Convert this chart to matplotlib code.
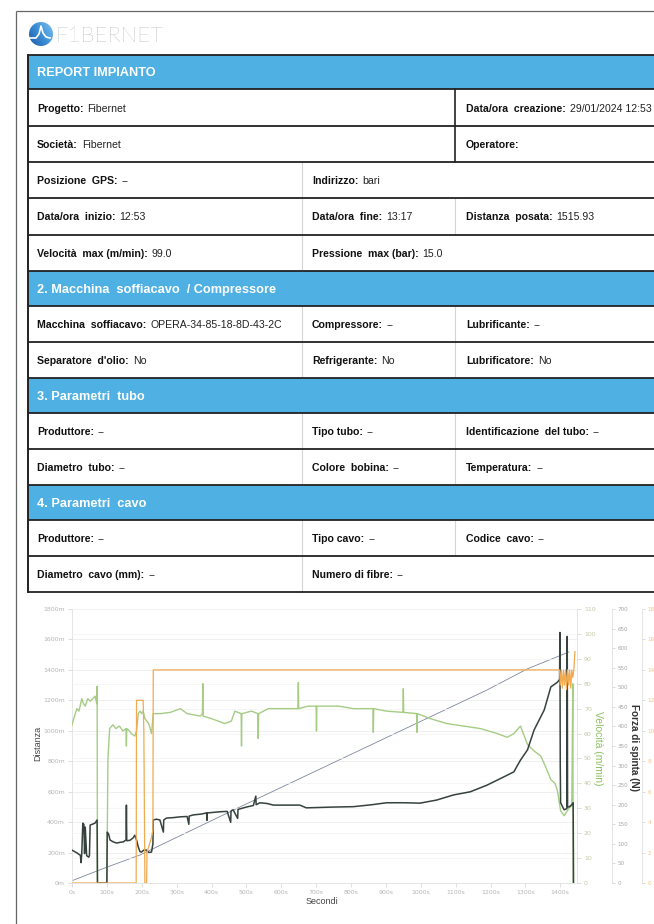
import matplotlib
matplotlib.use('Agg')
import matplotlib.pyplot as plt
from matplotlib.patches import Rectangle, Circle
import numpy as np

# ---------------- chart data ----------------
vel_t = [0, 5, 14, 20, 28, 33, 38, 45, 52, 60, 66, 71, 72, 73, 100, 103, 108, 117, 126, 136,
         146, 155, 156, 157, 165, 170, 180, 185, 190, 195, 200, 204, 209, 220, 228, 233, 253,
         282, 311, 330, 350, 368, 374, 375, 376, 400, 419, 438, 457, 467, 485, 486, 487, 515,
         533, 534, 535, 563, 592, 620, 648, 649, 650, 677, 700, 701, 702, 735, 764, 807, 835,
         863, 864, 865, 902, 949, 950, 951, 988, 989, 990, 1027, 1075, 1123, 1171, 1219, 1248,
         1267, 1286, 1306, 1325, 1344, 1360, 1373, 1385, 1392, 1401, 1411, 1425, 1433, 1436, 1437]
vel_v = [63.5, 66, 70, 69, 74, 72, 71, 74, 73, 74, 75, 72, 79, 0, 0, 50, 62, 63.5, 62, 63,
         61, 62, 55, 62, 61, 60, 59, 61, 68, 69, 68, 69, 66, 64, 60, 68, 68,
         68.5, 70, 68, 67.5, 67, 68, 80, 67, 66, 65, 64, 65, 69, 68, 55, 68, 69,
         68, 58, 68, 70, 70, 70, 70, 80.5, 70, 71, 71, 61, 71, 71, 71, 70, 70,
         70, 60.5, 70, 69, 68.5, 78, 68.5, 68, 60.5, 68, 66, 64, 63, 62, 60, 58.5,
         60, 63, 55.6, 53, 51, 46, 41.5, 40, 37, 29, 27, 30, 31, 80, 0]

force_t = [0, 8, 14, 20, 24, 26, 28, 31, 34, 36, 38, 42, 48, 50, 52, 58, 66, 72, 73, 100,
           101, 105, 109, 118, 128, 138, 147, 155, 156, 157, 166, 175, 180, 185, 190, 195, 199,
           206, 214, 220, 228, 232, 233, 242, 252, 262, 263, 271, 290, 310, 330, 335, 336, 348,
           370, 386, 387, 388, 424, 445, 455, 456, 462, 475, 476, 500, 520, 527, 528, 539, 560,
           577, 615, 653, 672, 711, 749, 807, 860, 902, 950, 998, 1046, 1094, 1142, 1190, 1238,
           1267, 1277, 1286, 1306, 1325, 1354, 1373, 1392, 1398, 1399, 1400, 1401, 1411, 1419,
           1420, 1421, 1425, 1433, 1437, 1438]
force_v = [84, 80, 77, 73, 71, 52, 75, 153, 150, 75, 143, 70, 66, 70, 148, 150, 153, 161, 0, 0,
           130, 125, 110, 105, 102, 104, 105, 110, 199, 108, 109, 115, 122, 110, 92, 80, 79,
           84, 84, 78, 79, 100, 161, 163, 161, 130, 161, 166, 167, 169, 170, 150, 171, 174,
           176, 179, 160, 179, 182, 183, 155, 184, 187, 165, 188, 194, 198, 222, 200, 205, 203,
           199, 199, 199, 192, 193, 194, 195, 200, 205, 205, 204, 212, 225, 233, 250, 271,
           284, 300, 314, 340, 391, 442, 501, 513, 520, 640, 300, 205, 187, 190,
           630, 195, 194, 200, 205, 0]

press_t = [0, 184, 185, 204, 206, 209, 214, 215, 228, 232, 233, 1398, 1400, 1403, 1406, 1409,
           1412, 1415, 1418, 1421, 1424, 1427, 1430, 1433, 1436, 1439, 1442]
press_v = [0, 0, 12, 12, 10, 0, 0, 2, 3, 3.5, 14, 14, 13, 14, 12.8, 14,
           13, 14, 12.7, 14, 13, 14, 12.8, 14, 13.5, 14, 15.2]

dist_t = [0, 101, 195, 482, 998, 1190, 1305, 1425]
dist_v = [15, 105, 184, 500, 1060, 1268, 1406, 1518]

dist_ticks = [0, 200, 400, 600, 800, 1000, 1200, 1400, 1600, 1800]
time_ticks = [0, 100, 200, 300, 400, 500, 600, 700, 800, 900, 1000, 1100, 1200, 1300, 1400]
vel_ticks = [0, 10, 20, 30, 40, 50, 60, 70, 80, 90, 100, 110]
force_ticks = [0, 50, 100, 150, 200, 250, 300, 350, 400, 450, 500, 550, 600, 650, 700]
press_ticks = [0, 2, 4, 6, 8, 10, 12, 14, 16, 18]

# ---------------- report table content ----------------
ROW_Y = [55, 89, 126, 162, 198, 235, 271, 306, 342, 378, 413, 449, 485, 520, 556, 592]
X1, X2, X3 = 37, 312, 466
rows = [
    ('h', 'REPORT IMPIANTO'),
    ('r', [(X1, 'Progetto:', 'Fibernet'), (X3, 'Data/ora  creazione:', '29/01/2024 12:53')], [(455, 'd')]),
    ('r', [(X1, 'Società:', 'Fibernet'), (X3, 'Operatore:', '')], [(455, 'd')]),
    ('r', [(X1, 'Posizione  GPS:', '--'), (X2, 'Indirizzo:', 'bari')], [(302, 'l')]),
    ('r', [(X1, 'Data/ora  inizio:', '12:53'), (X2, 'Data/ora  fine:', '13:17'),
           (X3, 'Distanza  posata:', '1515.93')], [(302, 'l'), (455, 'l')]),
    ('r', [(X1, 'Velocità  max (m/min):', '99.0'), (X2, 'Pressione  max (bar):', '15.0')], [(302, 'l')]),
    ('h', '2. Macchina  soffiacavo  / Compressore'),
    ('r', [(X1, 'Macchina  soffiacavo:', 'OPERA-34-85-18-8D-43-2C'), (X2, 'Compressore:', '--'),
           (X3, 'Lubrificante:', '--')], [(302, 'l'), (455, 'l')]),
    ('r', [(X1, "Separatore  d'olio:", 'No'), (X2, 'Refrigerante:', 'No'),
           (X3, 'Lubrificatore:', 'No')], [(302, 'l'), (455, 'l')]),
    ('h', '3. Parametri  tubo'),
    ('r', [(X1, 'Produttore:', '--'), (X2, 'Tipo tubo:', '--'),
           (X3, 'Identificazione  del tubo:', '--')], [(302, 'l'), (455, 'l')]),
    ('r', [(X1, 'Diametro  tubo:', '--'), (X2, 'Colore  bobina:', '--'),
           (X3, 'Temperatura:', '--')], [(302, 'l'), (455, 'l')]),
    ('h', '4. Parametri  cavo'),
    ('r', [(X1, 'Produttore:', '--'), (X2, 'Tipo cavo:', '--'),
           (X3, 'Codice  cavo:', '--')], [(302, 'l'), (455, 'l')]),
    ('r', [(X1, 'Diametro  cavo (mm):', '--'), (X2, 'Numero di fibre:', '--')], [(302, 'l')]),
]

W, H = 654, 924
FONT = 'Liberation Sans'
BLUE = '#4FB0E3'
CELL_FS = 7.6
fig = plt.figure(figsize=(W / 100, H / 100), dpi=100)
bg = fig.add_axes([0, 0, 1, 1])
bg.set_xlim(0, W)
bg.set_ylim(H, 0)
bg.axis('off')
renderer = fig.canvas.get_renderer()

# page border
bg.plot([16, 16], [11, H], color='#666', lw=0.9, solid_capstyle='butt')
bg.plot([16, W], [11, 11], color='#666', lw=0.9, solid_capstyle='butt')

# logo
yy, xx = np.mgrid[0:1:64j, 0:1:64j]
grad = xx * 0.6 + (1 - yy) * 0.4
img = bg.imshow(grad, extent=(29, 53, 46, 22), cmap=matplotlib.colors.LinearSegmentedColormap.from_list(
    'lg', ['#1b5aa6', '#3d8fd6', '#7cc4f0']), zorder=2)
circ = Circle((41, 34), 12, transform=bg.transData)
img.set_clip_path(circ)
bg.plot([30, 36, 39, 41, 43, 46, 50], [38, 38, 34, 26, 33, 37, 38], color='white', lw=1.2, zorder=3)
bg.text(55, 35.5, 'F1BERNET', fontsize=16, color='#8e8e8e', family='Lato', fontweight='light',
        va='center', ha='left')

# table
for i, row in enumerate(rows):
    y0, y1 = ROW_Y[i], ROW_Y[i + 1]
    yc = (y0 + y1) / 2
    if row[0] == 'h':
        bg.add_patch(Rectangle((28, y0), W - 28, y1 - y0, facecolor=BLUE, edgecolor='none', zorder=1))
        bg.text(37, yc, row[1], fontsize=9.2, fontweight='bold', color='white', family=FONT,
                va='center_baseline', ha='left', zorder=3)
    else:
        for xd, kind in row[2]:
            if kind == 'd':
                bg.plot([xd, xd], [y0, y1], color='#222', lw=1.2, zorder=2)
            else:
                bg.plot([xd, xd], [y0, y1], color='#d4d4d4', lw=0.8, zorder=2)
        for x, lab, val in row[1]:
            t = bg.text(x, yc, lab, fontsize=CELL_FS, fontweight='bold', color='#111', family=FONT,
                        va='center_baseline', ha='left', zorder=3)
            if val:
                wpx = t.get_window_extent(renderer).width
                bg.text(x + wpx + 4, yc, val, fontsize=CELL_FS, color='#222', family=FONT,
                        va='center_baseline', ha='left', zorder=3)
for y in ROW_Y:
    bg.plot([28, W], [y, y], color='#222', lw=1.3, zorder=2, solid_capstyle='butt')
bg.plot([28, 28], [ROW_Y[0], ROW_Y[-1]], color='#222', lw=1.4, zorder=2)

# ---------------- chart ----------------
L, R, T, B = 72, 577, 609, 883
ax = fig.add_axes([L / W, 1 - B / H, (R - L) / W, (B - T) / H])
ax.set_xlim(0, 1448)
ax.set_ylim(0, 1800)
ax.set_yticks(dist_ticks)
ax.set_yticklabels([f'{v}m' for v in dist_ticks])
ax.set_xticks(time_ticks)
ax.set_xticklabels([f'{v}s' for v in time_ticks])
ax.tick_params(labelsize=4.5, colors='#d8d8d8', labelcolor='#b5b5b5', length=3, width=0.6, pad=2)
for s in ['top', 'right']:
    ax.spines[s].set_visible(False)
for s in ['left', 'bottom']:
    ax.spines[s].set_color('#e0e0e0')
    ax.spines[s].set_linewidth(0.6)
ax.grid(axis='y', color='#ececec', lw=0.6)
ax.set_axisbelow(True)
ax.plot(dist_t, dist_v, color='#7d889c', lw=0.6, zorder=2)

def twin(pos, ticks, top, labcol, fs=4.5, ln=3):
    a = ax.twinx()
    a.set_ylim(0, top)
    a.set_yticks(ticks)
    a.spines['right'].set_position(('axes', pos))
    a.spines['right'].set_color('#e0e0e0')
    a.spines['right'].set_linewidth(0.6)
    for s in ['top', 'left', 'bottom']:
        a.spines[s].set_visible(False)
    a.tick_params(labelsize=fs, colors='#d8d8d8', labelcolor=labcol, length=ln, width=0.6, pad=2)
    return a

axv = twin(1.0, vel_ticks, 110, '#c5c8a8')
axv.grid(axis='y', color='#f3f3f3', lw=0.5)
axv.plot(vel_t, vel_v, color='#a5cc85', lw=1.0)
axf = twin((612 - L) / (R - L), force_ticks, 700, '#a8a8a8', fs=4.1, ln=2)
axf.plot(force_t, force_v, color='#36423c', lw=1.1)
axp = twin((642 - L) / (R - L), press_ticks, 18, '#f2c488', fs=4.1, ln=2)
axp.plot(press_t, press_v, color='#f0aa50', lw=0.9)

bg.text(38, 743, 'Distanza', rotation=90, fontsize=6.5, color='#444', family=FONT, ha='center', va='center')
bg.text(322, 901, 'Secondi', fontsize=6.5, color='#444', family=FONT, ha='center', va='center')
bg.text(598, 748, 'Velocità (m/min)', rotation=-90, fontsize=7.5, color='#8dc063', family=FONT,
        ha='center', va='center')
bg.text(634, 748, 'Forza di spinta (N)', rotation=-90, fontsize=7.2, color='#333', family=FONT,
        fontweight='bold', ha='center', va='center')

fig.savefig('out.png', dpi=100)
